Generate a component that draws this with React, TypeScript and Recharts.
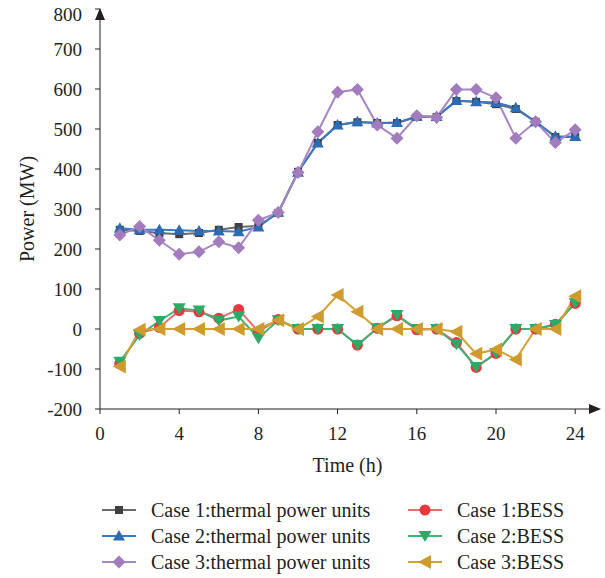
import React from 'react';
import {
  LineChart,
  Line,
  XAxis,
  YAxis,
  Legend,
  Customized,
} from 'recharts';

const hours = [1, 2, 3, 4, 5, 6, 7, 8, 9, 10, 11, 12, 13, 14, 15, 16, 17, 18, 19, 20, 21, 22, 23, 24];

const case1Thermal = [248, 245, 240, 237, 240, 248, 255, 258, 290, 393, 465, 510, 517, 515, 515, 530, 530, 570, 568, 562, 550, 518, 480, 480];
const case2Thermal = [252, 248, 248, 247, 245, 245, 243, 255, 292, 392, 465, 510, 518, 515, 516, 532, 531, 571, 568, 566, 553, 518, 482, 481];
const case3Thermal = [235, 256, 222, 187, 193, 218, 203, 272, 291, 391, 493, 592, 599, 510, 477, 533, 529, 599, 599, 578, 477, 518, 466, 498];
const case1Bess = [-86, -11, 4, 46, 43, 27, 49, -7, 24, 0, 0, 0, -40, 2, 33, -2, 0, -34, -96, -61, 0, 0, 12, 64];
const case2Bess = [-82, -15, 20, 52, 46, 21, 31, -23, 22, 0, 0, 0, -40, 2, 35, 0, 0, -38, -95, -60, 0, 0, 10, 65];
const case3Bess = [-94, -2, 0, 0, 0, 0, 0, 0, 22, 0, 31, 85, 43, 0, 0, 0, 0, -7, -62, -51, -76, 0, 0, 82];

const xTicks = [0, 4, 8, 12, 16, 20, 24];
const yTicks = [-200, -100, 0, 100, 200, 300, 400, 500, 600, 700, 800];

const data = hours.map((h, i) => ({
  hour: h,
  c1t: case1Thermal[i],
  c2t: case2Thermal[i],
  c3t: case3Thermal[i],
  c1b: case1Bess[i],
  c2b: case2Bess[i],
  c3b: case3Bess[i],
}));

type Shape = 'square' | 'up' | 'diamond' | 'circle' | 'down' | 'left';

const series: { key: string; name: string; line: string; fill: string; shape: Shape }[] = [
  { key: 'c1t', name: 'Case 1:thermal power units', line: '#6b6b6b', fill: '#404040', shape: 'square' },
  { key: 'c2t', name: 'Case 2:thermal power units', line: '#3b78c6', fill: '#2d6bb5', shape: 'up' },
  { key: 'c3t', name: 'Case 3:thermal power units', line: '#a786c3', fill: '#a27cbd', shape: 'diamond' },
  { key: 'c1b', name: 'Case 1:BESS', line: '#f06a6a', fill: '#e8383d', shape: 'circle' },
  { key: 'c2b', name: 'Case 2:BESS', line: '#3db372', fill: '#2eaa68', shape: 'down' },
  { key: 'c3b', name: 'Case 3:BESS', line: '#d4a234', fill: '#cf9b2e', shape: 'left' },
];

const FONT = '"Liberation Serif", "Times New Roman", serif';
const INK = '#231f20';

function marker(shape: Shape, cx: number, cy: number, fill: string, key?: string) {
  switch (shape) {
    case 'square':
      return <rect key={key} x={cx - 4} y={cy - 4} width={8} height={8} fill={fill} />;
    case 'up':
      return <polygon key={key} points={`${cx},${cy - 6} ${cx + 6},${cy + 4.5} ${cx - 6},${cy + 4.5}`} fill={fill} />;
    case 'diamond':
      return <polygon key={key} points={`${cx},${cy - 6.5} ${cx + 6.5},${cy} ${cx},${cy + 6.5} ${cx - 6.5},${cy}`} fill={fill} />;
    case 'circle':
      return <circle key={key} cx={cx} cy={cy} r={5.5} fill={fill} />;
    case 'down':
      return <polygon key={key} points={`${cx - 6.5},${cy - 5} ${cx + 6.5},${cy - 5} ${cx},${cy + 6}`} fill={fill} />;
    case 'left':
      return <polygon key={key} points={`${cx - 7},${cy} ${cx + 6},${cy - 7} ${cx + 6},${cy + 7}`} fill={fill} />;
  }
}

const YTick = (props: any) => {
  const { x, y, payload } = props;
  // top label sits a little lower, under the arrow head
  const shift = payload.value === 800 ? 5 : 0;
  return (
    <text x={x} y={y + shift} dy="0.35em" textAnchor="end" fontFamily={FONT} fontSize={19} fill={INK}>
      {payload.value}
    </text>
  );
};

const AxisArrows = () => (
  <g fill={INK}>
    <polygon points="100,8 95,20 105,20" />
    <polygon points="601,409 589,404 589,414" />
  </g>
);

const LegendBox = () => (
  <div
    style={{
      display: 'grid',
      gridTemplateColumns: '306px 160px',
      gridTemplateRows: 'repeat(3, 26px)',
      gridAutoFlow: 'column',
      fontFamily: FONT,
      fontSize: 20,
      color: INK,
    }}
  >
    {series.map((s) => (
      <div key={s.key} style={{ display: 'flex', alignItems: 'center', whiteSpace: 'nowrap' }}>
        <svg width={34} height={16} style={{ marginRight: 15 }}>
          <line x1={0} y1={8} x2={34} y2={8} stroke={s.line} strokeWidth={2} />
          {marker(s.shape, 17, 8, s.fill)}
        </svg>
        <span>{s.name}</span>
      </div>
    ))}
  </div>
);

export default function App() {
  return (
    <div>
      <style>{'body { margin: 0; }'}</style>
      <LineChart
        width={605}
        height={578}
        data={data}
        margin={{ top: 9, right: 10, left: 40, bottom: 139 }}
      >
        <XAxis
          dataKey="hour"
          type="number"
          domain={[0, 25]}
          ticks={xTicks}
          allowDataOverflow
          height={30}
          tickSize={5}
          tickMargin={13}
          stroke={INK}
          tick={{ fontFamily: FONT, fontSize: 19, fill: INK }}
          label={{ value: 'Time (h)', position: 'insideBottom', offset: -33, fontFamily: FONT, fontSize: 20, fill: INK }}
        />
        <YAxis
          type="number"
          domain={[-200, 800]}
          ticks={yTicks}
          width={60}
          tickSize={5}
          tickMargin={13}
          stroke={INK}
          tick={<YTick />}
          label={{
            content: () => (
              <text
                x={0}
                y={0}
                transform="translate(27,209) rotate(-90)"
                textAnchor="middle"
                dominantBaseline="central"
                fontFamily={FONT}
                fontSize={20}
                fill={INK}
              >
                Power (MW)
              </text>
            ),
          }}
        />
        <Customized component={AxisArrows} />
        {series.map((s) => (
          <Line
            key={s.key}
            dataKey={s.key}
            name={s.name}
            type="linear"
            stroke={s.line}
            strokeWidth={2}
            isAnimationActive={false}
            dot={(p: any) => marker(s.shape, p.cx, p.cy, s.fill, `${s.key}-${p.index}`)}
            activeDot={false}
          />
        ))}
        <Legend
          layout="vertical"
          align="center"
          verticalAlign="middle"
          wrapperStyle={{ top: 497, left: 102, width: 480, height: 80 }}
          content={() => <LegendBox />}
        />
      </LineChart>
    </div>
  );
}
